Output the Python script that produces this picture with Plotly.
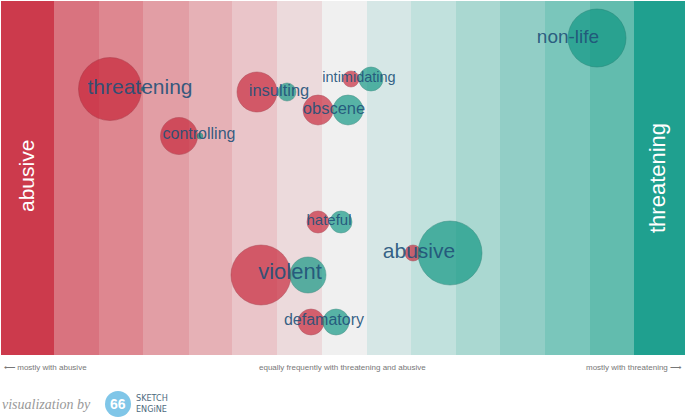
import plotly.graph_objects as go

# colour bands, left (abusive) to right (threatening)
BAND_EDGES = [1, 54, 99, 143, 189, 232, 277, 322, 367, 411, 456, 500, 545, 590, 634, 685]
BAND_COLORS = [
    "#cc3a4c", "#d9737f", "#de8790", "#e29ea5", "#e6b1b6", "#eac5c9", "#ecdadc",
    "#f0f0f0",
    "#d6e7e6", "#c1e1dd", "#aad8d1", "#92cec6", "#7ac6bb", "#62bcae", "#1fa08f",
]

# collocates: label position, font size, red (abusive) and teal (threatening) bubbles
WORDS = ["threatening", "controlling", "insulting", "obscene", "intimidating",
         "hateful", "violent", "defamatory", "abusive", "non-life"]
WORD_X = [140, 199, 279, 334, 359, 329, 290, 324, 419, 568]
WORD_Y = [89, 135, 92, 110, 78, 221, 273, 321, 253, 38]
WORD_SIZE = [21, 16, 16.5, 16.5, 14.5, 15, 22, 16, 21, 19]

RED_X = [110, 179, 257, 318, 351, 318, 261, 311, 413]
RED_Y = [89, 136, 92, 110, 79, 222, 275, 322, 253]
RED_D = [63, 37, 40, 30, 16, 22, 60, 26, 16]

TEAL_X = [143, 200, 287, 348, 371, 341, 308, 336, 450, 597]
TEAL_Y = [89, 136, 92, 110, 79, 222, 275, 322, 253, 38]
TEAL_D = [4, 6, 18, 30, 24, 22, 36, 26, 64, 58]

fig = go.Figure()

centers = [(a + b) / 2 for a, b in zip(BAND_EDGES[:-1], BAND_EDGES[1:])]
widths = [b - a for a, b in zip(BAND_EDGES[:-1], BAND_EDGES[1:])]
fig.add_trace(go.Bar(x=centers, y=[354] * len(centers), base=1, width=widths,
                     marker=dict(color=BAND_COLORS, line_width=0),
                     hoverinfo="skip", showlegend=False))

fig.add_trace(go.Scatter(x=RED_X, y=RED_Y, mode="markers", showlegend=False,
                         marker=dict(size=RED_D, color="rgba(199,36,56,0.96)",
                                     line=dict(color="rgba(150,30,45,0.5)", width=1))))
fig.add_trace(go.Scatter(x=TEAL_X, y=TEAL_Y, mode="markers", showlegend=False,
                         marker=dict(size=TEAL_D, color="rgba(14,150,130,0.96)",
                                     line=dict(color="rgba(10,110,95,0.5)", width=1))))
fig.add_trace(go.Scatter(x=WORD_X, y=WORD_Y, mode="text", text=WORDS, showlegend=False,
                         textposition="middle center",
                         textfont=dict(family="Liberation Sans, Arial", size=WORD_SIZE,
                                       color="rgba(32,80,120,0.9)")))

# rotated band labels
fig.add_annotation(x=26, y=176, text="abusive", textangle=-90, showarrow=False,
                   font=dict(family="Liberation Sans, Arial", size=21, color="white"))
fig.add_annotation(x=657, y=178, text="threatening", textangle=-90, showarrow=False,
                   font=dict(family="Liberation Sans, Arial", size=22, color="white"))

axis_font = dict(family="Liberation Sans, Arial", size=8, color="#777")
fig.add_annotation(x=2, y=367, text="⟵ mostly with abusive", showarrow=False,
                   xanchor="left", font=axis_font)
fig.add_annotation(x=342, y=367, text="equally frequently with threatening and abusive",
                   showarrow=False, font=axis_font)
fig.add_annotation(x=684, y=367, text="mostly with threatening ⟶", showarrow=False,
                   xanchor="right", font=axis_font)

# footer
fig.add_annotation(x=0, y=404, text="<i>visualization by</i>", showarrow=False, xanchor="left",
                   font=dict(family="Liberation Serif, serif", size=14, color="#999"))
fig.add_shape(type="circle", x0=105, x1=131, y0=391, y1=417, line_width=0,
              fillcolor="#80c6e8")
fig.add_annotation(x=118, y=404, text="<b>66</b>", showarrow=False,
                   font=dict(family="Liberation Sans, Arial", size=14, color="white"))
fig.add_annotation(x=134, y=398, text="SKETCH", showarrow=False, xanchor="left",
                   font=dict(family="DejaVu Sans Condensed, Arial", size=9, color="#4d6a7e"))
fig.add_annotation(x=134, y=409, text="ENGiNE", showarrow=False, xanchor="left",
                   font=dict(family="DejaVu Sans Condensed, Arial", size=9, color="#4d6a7e"))

fig.update_layout(
    width=685, height=417,
    margin=dict(l=0, r=0, t=0, b=0),
    paper_bgcolor="white", plot_bgcolor="white",
    bargap=0,
    xaxis=dict(range=[0, 685], visible=False, fixedrange=True),
    yaxis=dict(range=[417, 0], visible=False, fixedrange=True),
)

fig.write_html("out.html", config={"displayModeBar": False},
               post_script="document.body.style.margin='0';")
